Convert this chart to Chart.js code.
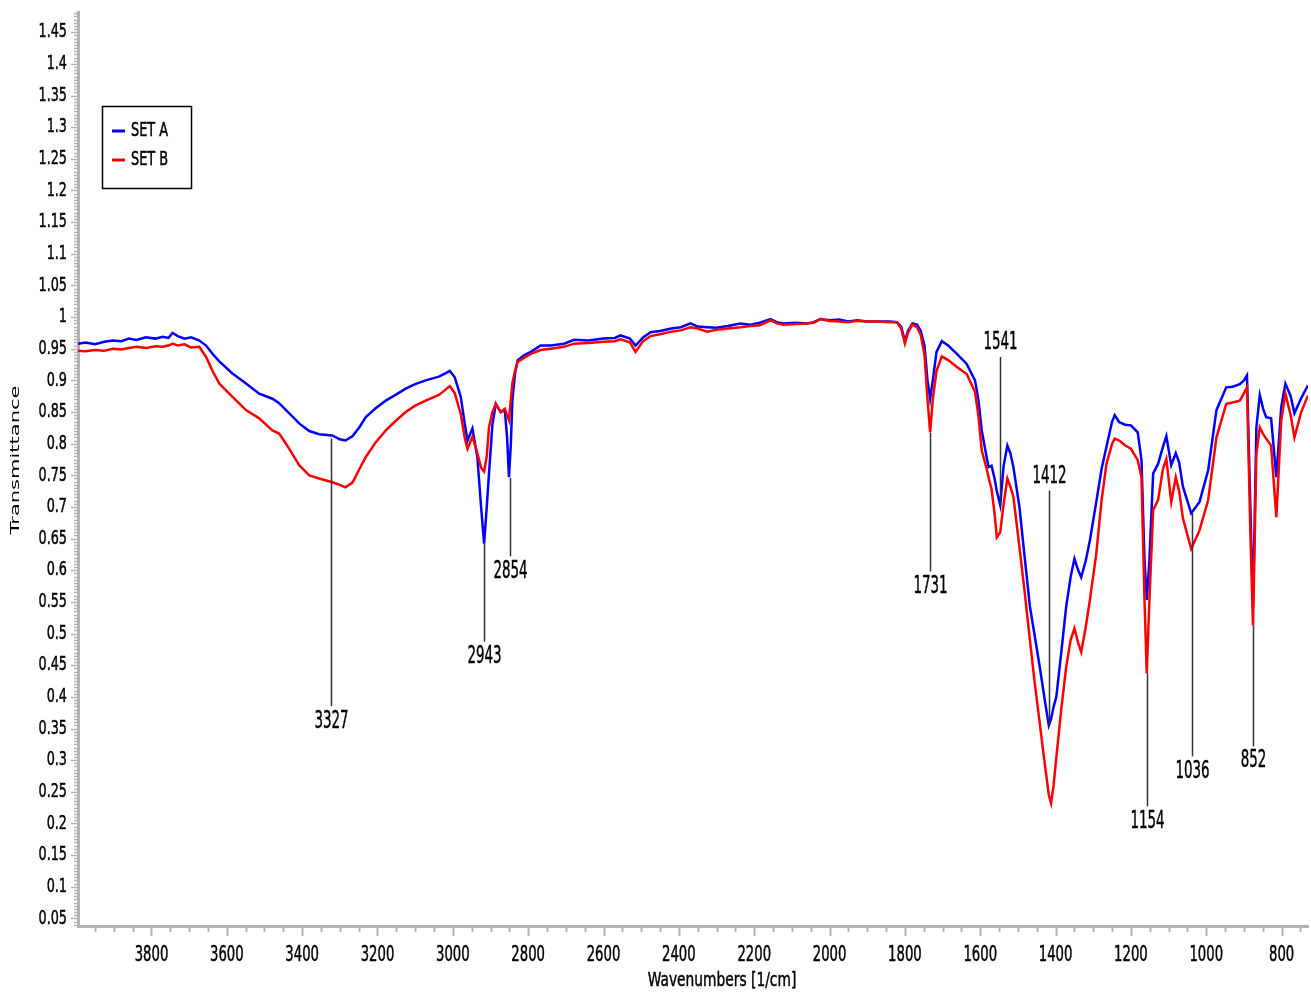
<!DOCTYPE html>
<html lang="en">
<head>
<meta charset="UTF-8">
<title>FTIR - SET A / SET B</title>
<script src="https://cdn.jsdelivr.net/npm/chart.js"></script>
<style>
  body { margin: 0; background: #fff; }
  #wrap { width: 1311px; height: 994px; }
</style>
</head>
<body>
<div id="wrap"><canvas id="ftir" width="1311" height="994"></canvas></div>
<script>
// wavenumbers [1/cm], high to low
const wavenumbers = [
  3995, 3975, 3950, 3925, 3903, 3880, 3860, 3840, 3815, 3790, 3770, 3755, 3744, 3730, 3712, 3695,
  3673, 3655, 3638, 3620, 3585, 3549, 3514, 3479, 3461, 3443, 3426, 3408, 3381, 3355, 3320, 3300,
  3285, 3266, 3248, 3231, 3205, 3178, 3150, 3125, 3100, 3072, 3037, 3020, 3008, 2995, 2979, 2968,
  2961, 2948, 2935, 2925, 2917, 2910, 2904, 2895, 2886, 2873, 2862, 2856, 2851, 2846, 2842, 2835,
  2828, 2810, 2793, 2767, 2740, 2705, 2678, 2640, 2600, 2570, 2555, 2530, 2515, 2495, 2475, 2450,
  2420, 2395, 2369, 2350, 2325, 2300, 2270, 2237, 2210, 2185, 2157, 2140, 2122, 2090, 2060, 2042,
  2024, 2000, 1975, 1950, 1927, 1900, 1870, 1840, 1821, 1810, 1800, 1792, 1780, 1768, 1758, 1748,
  1740, 1733, 1726, 1716, 1702, 1685, 1662, 1636, 1614, 1605, 1596, 1585, 1578, 1570, 1562, 1556,
  1547, 1538, 1528, 1520, 1512, 1496, 1482, 1468, 1455, 1442, 1430, 1418, 1412, 1405, 1398, 1385,
  1372, 1360, 1350, 1340, 1332, 1320, 1309, 1292, 1278, 1265, 1250, 1243, 1231, 1215, 1200, 1182,
  1172, 1164, 1158, 1151, 1141, 1128, 1115, 1106, 1093, 1081, 1072, 1062, 1040, 1018, 995, 973,
  947, 930, 911, 900, 892, 883, 876, 867, 858, 849, 841, 828, 814, 801, 790, 776,
  766, 748, 730
];

const setA = [
  0.958, 0.960, 0.957, 0.961, 0.963, 0.962, 0.966, 0.964, 0.968, 0.966, 0.969, 0.967, 0.975, 0.970, 0.966, 0.968,
  0.963, 0.955, 0.942, 0.930, 0.911, 0.895, 0.879, 0.871, 0.864, 0.853, 0.843, 0.832, 0.820, 0.815, 0.813, 0.807,
  0.805, 0.812, 0.826, 0.842, 0.856, 0.868, 0.878, 0.887, 0.894, 0.900, 0.906, 0.911, 0.915, 0.905, 0.874, 0.830,
  0.805, 0.824, 0.779, 0.700, 0.642, 0.700, 0.753, 0.830, 0.863, 0.850, 0.853, 0.810, 0.747, 0.800, 0.868, 0.910,
  0.932, 0.940, 0.945, 0.955, 0.955, 0.958, 0.964, 0.963, 0.966, 0.967, 0.971, 0.966, 0.955, 0.968, 0.976, 0.978,
  0.982, 0.984, 0.990, 0.985, 0.984, 0.983, 0.986, 0.990, 0.988, 0.991, 0.997, 0.992, 0.990, 0.991, 0.990, 0.992,
  0.997, 0.995, 0.996, 0.993, 0.995, 0.993, 0.993, 0.993, 0.992, 0.985, 0.962, 0.978, 0.990, 0.988, 0.978, 0.955,
  0.900, 0.871, 0.900, 0.945, 0.962, 0.955, 0.942, 0.926, 0.900, 0.870, 0.821, 0.785, 0.763, 0.765, 0.745, 0.725,
  0.703, 0.765, 0.797, 0.785, 0.763, 0.700, 0.620, 0.542, 0.495, 0.447, 0.400, 0.355, 0.365, 0.385, 0.400, 0.470,
  0.542, 0.590, 0.618, 0.600, 0.589, 0.615, 0.647, 0.708, 0.760, 0.795, 0.835, 0.845, 0.834, 0.830, 0.829, 0.818,
  0.774, 0.616, 0.553, 0.616, 0.753, 0.768, 0.795, 0.812, 0.766, 0.785, 0.770, 0.732, 0.690, 0.708, 0.758, 0.853,
  0.889, 0.890, 0.894, 0.900, 0.908, 0.700, 0.540, 0.826, 0.877, 0.855, 0.842, 0.840, 0.747, 0.858, 0.895, 0.875,
  0.848, 0.872, 0.892
];

const setB = [
  0.947, 0.946, 0.948, 0.947, 0.950, 0.949, 0.951, 0.953, 0.951, 0.954, 0.953, 0.955, 0.958, 0.955, 0.957, 0.952,
  0.953, 0.937, 0.915, 0.895, 0.874, 0.853, 0.840, 0.821, 0.816, 0.800, 0.784, 0.766, 0.750, 0.745, 0.739, 0.735,
  0.731, 0.739, 0.760, 0.779, 0.802, 0.821, 0.837, 0.850, 0.860, 0.868, 0.877, 0.885, 0.891, 0.880, 0.847, 0.808,
  0.792, 0.811, 0.785, 0.762, 0.756, 0.780, 0.826, 0.850, 0.863, 0.850, 0.855, 0.845, 0.837, 0.870, 0.895, 0.915,
  0.929, 0.936, 0.942, 0.948, 0.950, 0.953, 0.958, 0.959, 0.961, 0.962, 0.965, 0.960, 0.945, 0.962, 0.970, 0.973,
  0.977, 0.979, 0.984, 0.982, 0.977, 0.980, 0.982, 0.984, 0.986, 0.987, 0.995, 0.990, 0.988, 0.989, 0.990, 0.991,
  0.997, 0.994, 0.993, 0.992, 0.994, 0.993, 0.993, 0.992, 0.992, 0.982, 0.958, 0.975, 0.988, 0.984, 0.972, 0.940,
  0.870, 0.818, 0.870, 0.915, 0.938, 0.932, 0.921, 0.910, 0.882, 0.845, 0.789, 0.765, 0.747, 0.728, 0.690, 0.652,
  0.660, 0.705, 0.745, 0.732, 0.716, 0.637, 0.565, 0.489, 0.420, 0.358, 0.300, 0.245, 0.232, 0.262, 0.305, 0.380,
  0.447, 0.490, 0.508, 0.485, 0.471, 0.510, 0.553, 0.626, 0.710, 0.768, 0.800, 0.808, 0.805, 0.797, 0.792, 0.774,
  0.747, 0.553, 0.437, 0.553, 0.695, 0.711, 0.760, 0.776, 0.708, 0.747, 0.725, 0.682, 0.634, 0.663, 0.711, 0.810,
  0.863, 0.865, 0.868, 0.880, 0.889, 0.660, 0.513, 0.784, 0.826, 0.815, 0.808, 0.797, 0.684, 0.837, 0.879, 0.845,
  0.810, 0.850, 0.876
];

const seriesNames = ['SET A', 'SET B'];
const seriesColors = ['#0000ff', '#ff0000'];

// peak markers: text, where the stick sits, stick start (on curve) and stick end (at text)
const peakText  = ['3327', '2943', '2854', '1731', '1541', '1412', '1154', '1036', '852'];
const peakWn    = [3323, 2917, 2849, 1733, 1547, 1418, 1158, 1039, 877];
const peakCurve = [0.808, 0.642, 0.746, 0.817, 0.703, 0.355, 0.437, 0.690, 0.513];
const peakEnd   = [0.385, 0.487, 0.622, 0.598, 0.937, 0.726, 0.227, 0.306, 0.322];

const xTickValues = [3800, 3600, 3400, 3200, 3000, 2800, 2600, 2400, 2200, 2000, 1800, 1600, 1400, 1200, 1000, 800];
const yTickValues = [0.05, 0.1, 0.15, 0.2, 0.25, 0.3, 0.35, 0.4, 0.45, 0.5, 0.55, 0.6, 0.65, 0.7, 0.75,
  0.8, 0.85, 0.9, 0.95, 1, 1.05, 1.1, 1.15, 1.2, 1.25, 1.3, 1.35, 1.4, 1.45];

const axisGray = '#b2b2b2';
const textColor = '#000';

function squeezeText(ctx, text, x, y, size, sx, align) {
  ctx.save();
  ctx.font = size + 'px "DejaVu Sans", Verdana, sans-serif';
  ctx.textAlign = align;
  ctx.textBaseline = 'middle';
  ctx.fillStyle = textColor;
  ctx.strokeStyle = textColor;
  ctx.lineWidth = 0.5;
  ctx.translate(x, y);
  ctx.scale(sx, 1);
  ctx.fillText(text, 0, 0);
  ctx.strokeText(text, 0, 0);
  ctx.restore();
}

const spectrumDecor = {
  id: 'spectrumDecor',
  afterDraw(chart) {
    const ctx = chart.ctx;
    const xs = chart.scales.x, ys = chart.scales.y;
    const area = chart.chartArea;

    // x ticks: every 50, longer at labelled values
    ctx.save();
    ctx.strokeStyle = axisGray;
    ctx.lineWidth = 2;
    for (let v = 750; v <= 3950; v += 50) {
      const px = Math.round(xs.getPixelForValue(v)) + 0.5;
      const len = xTickValues.includes(v) ? 9 : 5;
      ctx.beginPath();
      ctx.moveTo(px, area.bottom + 1);
      ctx.lineTo(px, area.bottom + 1 + len);
      ctx.stroke();
    }
    // y ticks: dense minor marks, longer ones at labelled values
    ctx.lineWidth = 1.5;
    for (let k = 8; k <= 296; k++) {
      const v = k * 0.005;
      const py = Math.round(ys.getPixelForValue(v)) + 0.5;
      const major = k % 10 === 0;
      ctx.beginPath();
      ctx.moveTo(area.left - 1, py);
      ctx.lineTo(area.left - 1 - (major ? 6 : 3), py);
      ctx.stroke();
    }
    ctx.restore();

    xTickValues.forEach(v => squeezeText(ctx, String(v), xs.getPixelForValue(v), 956, 21, 0.63, 'center'));
    yTickValues.forEach(v => squeezeText(ctx, String(v), 67, ys.getPixelForValue(v), 20, 0.64, 'right'));

    // axis titles
    squeezeText(ctx, 'Wavenumbers [1/cm]', (area.left + area.right) / 2 + 29, 981, 20, 0.69, 'center');
    ctx.save();
    ctx.font = '21px "DejaVu Sans", Verdana, sans-serif';
    ctx.fillStyle = textColor;
    ctx.textAlign = 'center';
    ctx.textBaseline = 'middle';
    ctx.translate(16, 460);
    ctx.rotate(-Math.PI / 2);
    ctx.scale(1, 0.62);
    ctx.fillText('Transmittance', 0, 0);
    ctx.restore();

    // peak sticks and their numbers
    ctx.save();
    ctx.strokeStyle = '#333';
    ctx.lineWidth = 1.5;
    peakText.forEach((t, i) => {
      const px = Math.round(xs.getPixelForValue(peakWn[i])) + 0.5;
      const y0 = ys.getPixelForValue(peakCurve[i]);
      const y1 = ys.getPixelForValue(peakEnd[i]);
      ctx.beginPath();
      ctx.moveTo(px, y0);
      ctx.lineTo(px, y1);
      ctx.stroke();
      const ty = peakEnd[i] > peakCurve[i] ? y1 - 14 : y1 + 15;
      squeezeText(ctx, t, px, ty, 24, 0.56, 'center');
    });
    ctx.restore();

    // boxed legend
    ctx.save();
    ctx.strokeStyle = '#000';
    ctx.lineWidth = 1.5;
    ctx.strokeRect(102.5, 106.5, 89, 82);
    ctx.lineWidth = 3;
    seriesNames.forEach((name, i) => {
      const ly = 131 + i * 29;
      ctx.strokeStyle = seriesColors[i];
      ctx.beginPath();
      ctx.moveTo(112, ly);
      ctx.lineTo(125, ly);
      ctx.stroke();
      squeezeText(ctx, name, 131, ly, 19, 0.68, 'left');
    });
    ctx.restore();
  }
};

const ctx = document.getElementById('ftir').getContext('2d');
const chart = new Chart(ctx, {
  type: 'line',
  data: {
    datasets: [setA, setB].map((vals, i) => ({
      label: seriesNames[i],
      data: wavenumbers.map((w, j) => ({ x: w, y: vals[j] })),
      borderColor: seriesColors[i],
      borderWidth: 2.5,
      pointRadius: 0,
      tension: 0,
      fill: false,
      order: i === 0 ? 1 : 0
    }))
  },
  options: {
    responsive: false,
    animation: false,
    devicePixelRatio: 1,
    layout: { padding: { top: 12, right: 3, left: 0, bottom: 0 } },
    plugins: { legend: { display: false }, tooltip: { enabled: false } },
    scales: {
      x: {
        type: 'linear',
        reverse: true,
        min: 730,
        max: 3995,
        grid: { display: false },
        border: { display: true, color: axisGray, width: 3 },
        ticks: { display: false },
        afterFit(scale) { scale.height = 68; }
      },
      y: {
        min: 0.038,
        max: 1.482,
        grid: { display: false },
        border: { display: true, color: axisGray, width: 3 },
        ticks: { display: false },
        afterFit(scale) { scale.width = 78; }
      }
    }
  },
  plugins: [spectrumDecor]
});
</script>
</body>
</html>
